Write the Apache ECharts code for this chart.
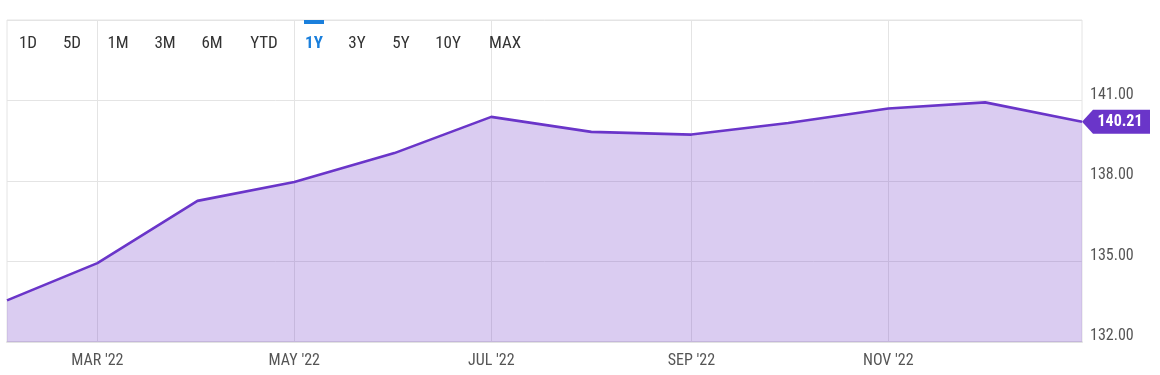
<!DOCTYPE html>
<html>
<head>
<meta charset="utf-8">
<script src="https://cdn.jsdelivr.net/npm/echarts@6/dist/echarts.min.js"></script>
<style>
html,body{margin:0;padding:0;background:#fff;}
#chart{width:1160px;height:375px;}
</style>
</head>
<body>
<div id="chart"></div>
<script>
// ---- data ----
const dates = ['2022-02-01','2022-03-01','2022-04-01','2022-05-01','2022-06-01','2022-07-01','2022-08-01','2022-09-01','2022-10-01','2022-11-01','2022-12-01','2022-12-31'];
const prices = [133.55, 134.94, 137.26, 137.96, 139.04, 140.39, 139.83, 139.73, 140.16, 140.70, 140.93, 140.21];
const xTickDates = ['2022-03-01','2022-05-01','2022-07-01','2022-09-01','2022-11-01'];
const xTickLabels = ["MAR '22","MAY '22","JUL '22","SEP '22","NOV '22"];
const rangeButtons = ['1D','5D','1M','3M','6M','YTD','1Y','3Y','5Y','10Y','MAX'];
const selectedRange = '1Y';
const lastPrice = 140.21;

// ---- layout (not data) ----
const buttonCenters = [28,72,118,165,212,264,314,357,401,448,505];
const FONT = "'Liberation Sans Narrow','Roboto Condensed','DejaVu Sans Condensed',Roboto,sans-serif";
const LINE = '#6a35c9';

const ts = d => new Date(d + 'T00:00:00Z').getTime();
const tickTs = xTickDates.map(ts);
const seriesData = dates.map((d, i) => [ts(d), prices[i]]);

const graphics = [];
rangeButtons.forEach((b, i) => {
  const sel = b === selectedRange;
  graphics.push({
    type: 'text', x: buttonCenters[i], y: 44, z: 100,
    style: { text: b, fill: sel ? '#1a7fdc' : '#333', font: (sel ? 'bold ' : '') + '17px ' + FONT, align: 'center', verticalAlign: 'middle' }
  });
  if (sel) {
    graphics.push({ type: 'rect', z: 100, shape: { x: buttonCenters[i] - 10, y: 20, width: 20, height: 4 }, style: { fill: '#1a7fdc' } });
  }
});

const chart = echarts.init(document.getElementById('chart'), null, { renderer: 'canvas' });
chart.setOption({
  animation: false,
  backgroundColor: '#fff',
  grid: { left: 7, right: 78, top: 20, bottom: 33, show: true, borderColor: '#e4e4e4', borderWidth: 1 },
  graphic: graphics,
  xAxis: {
    type: 'value',
    min: ts(dates[0]), max: ts(dates[dates.length - 1]),
    axisLine: { show: true, lineStyle: { color: '#e2e2e2', width: 2 } },
    axisTick: { show: false, customValues: tickTs },
    splitLine: { show: true, lineStyle: { color: '#e4e4e4', width: 1 } },
    axisLabel: {
      customValues: tickTs,
      formatter: v => { const i = tickTs.indexOf(v); return i >= 0 ? xTickLabels[i] : ''; },
      color: '#555', fontFamily: FONT, fontSize: 16, margin: 11
    }
  },
  yAxis: {
    type: 'value', position: 'right',
    min: 132, max: 144, interval: 3,
    axisLine: { show: false }, axisTick: { show: false },
    splitLine: { show: true, lineStyle: { color: '#e4e4e4', width: 1 } },
    axisLabel: {
      showMaxLabel: false,
      formatter: v => v.toFixed(2),
      color: '#555', fontFamily: FONT, fontSize: 16, margin: 8,
      verticalAlign: 'bottom', lineHeight: 12
    }
  },
  series: [{
    type: 'line',
    data: seriesData,
    symbol: 'none',
    lineStyle: { color: LINE, width: 2.6 },
    areaStyle: { color: LINE, opacity: 0.25 },
    markPoint: {
      symbol: 'path://M0,12L11,0L68,0L68,24L11,24Z',
      symbolSize: [68, 24],
      symbolOffset: [34, 0],
      symbolKeepAspect: false,
      itemStyle: { color: LINE },
      label: { show: true, position: 'inside', offset: [4, 0], color: '#fff', fontWeight: 'bold', fontSize: 16, fontFamily: FONT, formatter: p => p.value.toFixed(2) },
      data: [{ coord: [ts(dates[dates.length - 1]), lastPrice], value: lastPrice }]
    }
  }]
});
</script>
</body>
</html>
